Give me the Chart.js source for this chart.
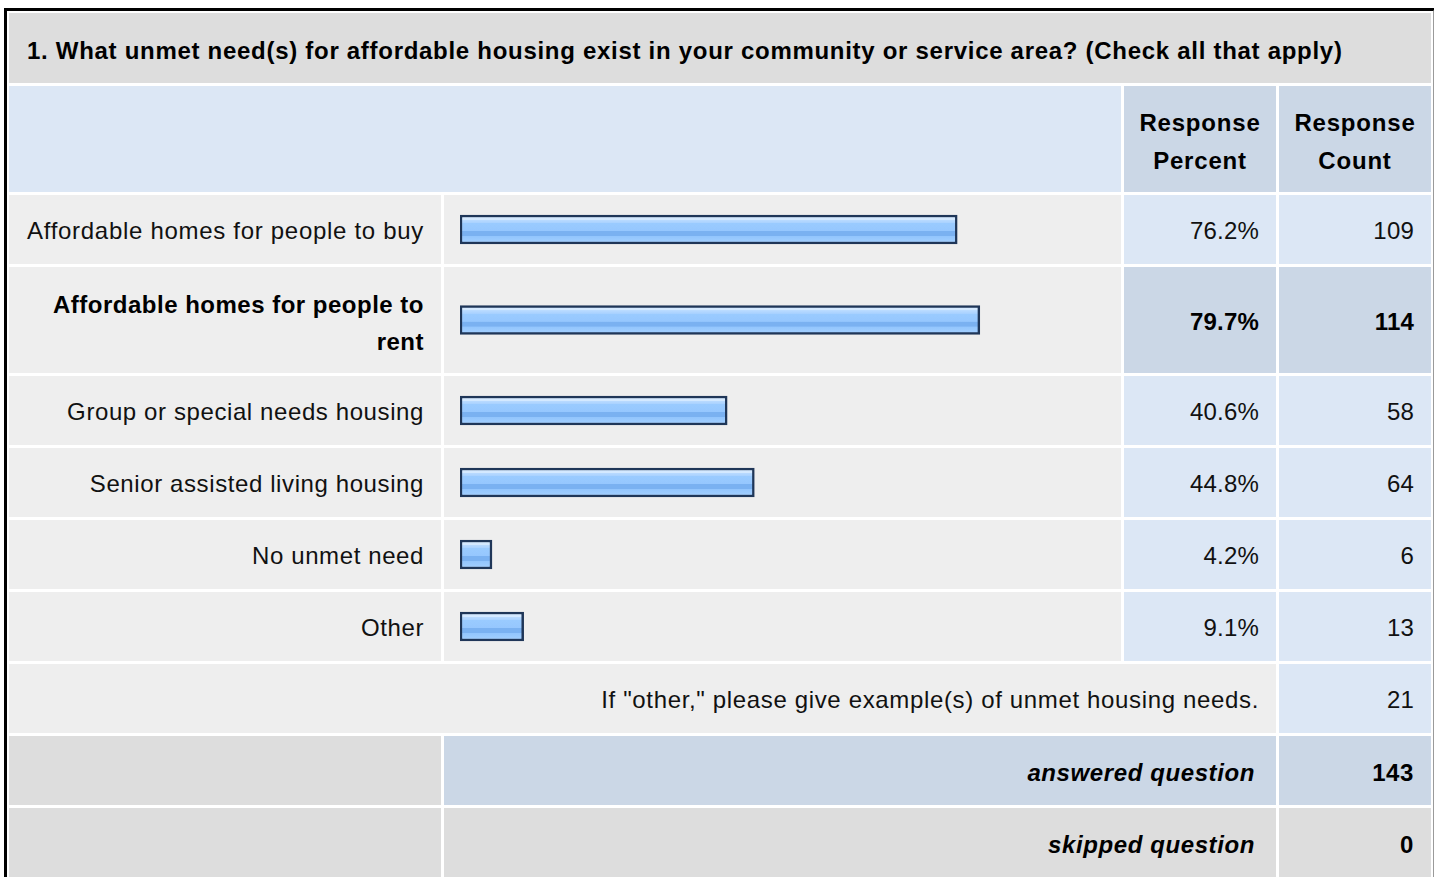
<!DOCTYPE html>
<html>
<head>
<meta charset="utf-8">
<script src="https://cdn.jsdelivr.net/npm/chart.js@4/dist/chart.umd.min.js"></script>
<style>
  html, body { margin:0; padding:0; background:#fff; width:1434px; height:877px; overflow:hidden; }
  body { font-family: "Liberation Sans", Arial, Helvetica, sans-serif; color:#111; }
  #frame { position:absolute; left:4px; top:8px; width:1426px; height:900px;
           border-left:3px solid #000; border-top:3px solid #000; border-right:3px solid #9a9a9a; }
  #grid { position:absolute; left:9px; top:13px; display:grid;
          grid-template-columns:432px 677px 152px 152px; column-gap:3px; row-gap:3px; }
  .cell { box-sizing:border-box; display:flex; align-items:center; font-size:24px; letter-spacing:0.6px; line-height:37px; }
  .title { grid-column:1 / span 4; background:#dddddd; padding-left:18px; padding-top:4px; font-weight:bold; letter-spacing:0.71px; height:70px; white-space:nowrap; color:#000; }
  .hdrblank { grid-column:1 / span 2; background:#dce7f5; }
  .hdr { background:#cbd7e6; justify-content:center; text-align:center; font-weight:bold; color:#000; padding-top:6px; letter-spacing:0.8px; line-height:38px; }
  .label { background:#eeeeee; justify-content:flex-end; text-align:right; padding:2px 17px 0 8px; white-space:nowrap; }
  .label.first { letter-spacing:0.7px; }
  .label.hi { white-space:normal; font-weight:bold; color:#000; padding-top:6px; letter-spacing:0.5px; }
  .barcell { background:#eeeeee; position:relative; }
  .barcell canvas { position:absolute; left:0; top:0; }
  .num { background:#dce7f5; justify-content:flex-end; padding:2px 17px 0 0; letter-spacing:0.2px; }
  .num.hi { background:#cbd7e6; font-weight:bold; color:#000; }
  .other { grid-column:1 / span 3; background:#eeeeee; justify-content:flex-end; padding:2px 17px 0 0; white-space:nowrap; letter-spacing:0.65px; }
  .sumblank { background:#dddddd; }
  .sumlabel { grid-column:2 / span 2; justify-content:flex-end; padding:3px 21px 0 0; font-weight:bold; font-style:italic; color:#000; letter-spacing:0.6px; }
  .sumnum { justify-content:flex-end; padding:3px 17px 0 0; font-weight:bold; color:#000; }
  .ans { background:#cbd7e6; }
  .skp { background:#dddddd; }
</style>
</head>
<body>
<div id="frame"></div>
<div id="grid"></div>
<script>
// ---- data ----
const questionTitle = "1. What unmet need(s) for affordable housing exist in your community or service area? (Check all that apply)";
const columnHeaders = ["Response Percent", "Response Count"];
const categories = [
  "Affordable homes for people to buy",
  "Affordable homes for people to rent",
  "Group or special needs housing",
  "Senior assisted living housing",
  "No unmet need",
  "Other"
];
const percents = [76.2, 79.7, 40.6, 44.8, 4.2, 9.1];
const counts = [109, 114, 58, 64, 6, 13];
const highlightRows = [1];
const otherPrompt = 'If "other," please give example(s) of unmet housing needs.';
const otherCount = 21;
const summaryLabels = ["answered question", "skipped question"];
const summaryCounts = [143, 0];

// ---- layout ----
const grid = document.getElementById('grid');
const rowHeights = [70, 106];
function el(cls, text, parent) {
  const d = document.createElement('div');
  d.className = 'cell ' + cls;
  if (text !== undefined) d.textContent = text;
  (parent || grid).appendChild(d);
  return d;
}
el('title', questionTitle);
el('hdrblank');
columnHeaders.forEach(h => {
  const d = el('hdr');
  const parts = h.split(' ');
  d.innerHTML = parts[0] + '<br>' + parts.slice(1).join(' ');
});

const AXIS_MIN = -0.75;
const barCells = [];
categories.forEach((cat, i) => {
  const hi = highlightRows.includes(i);
  const h = hi ? 106 : 69;
  rowHeights.push(h);
  el('label' + (hi ? ' hi' : '') + (i === 0 ? ' first' : ''), cat);
  const bc = el('barcell');
  bc.style.height = h + 'px';
  barCells.push({ bc, h, i });
  el('num' + (hi ? ' hi' : ''), percents[i].toFixed(1) + '%');
  el('num' + (hi ? ' hi' : ''), String(counts[i]));
});
rowHeights.push(69);
el('other', otherPrompt);
el('num', String(otherCount));
summaryLabels.forEach((lab, k) => {
  rowHeights.push(69);
  const cls = k === 0 ? 'ans' : 'skp';
  el('sumblank');
  el('sumlabel ' + cls, lab);
  el('sumnum ' + cls, String(summaryCounts[k]));
});
grid.style.gridTemplateRows = rowHeights.map(h => h + 'px').join(' ');

// ---- bars ----
const BAR_T = 29;
function barFill(ctx) {
  const chart = ctx.chart;
  const ys = chart.scales && chart.scales.y;
  let yc = ys ? ys.getPixelForValue(ctx.dataIndex) : NaN;
  if (!isFinite(yc)) yc = chart.height / 2;
  const g = chart.ctx.createLinearGradient(0, yc - BAR_T / 2, 0, yc + BAR_T / 2);
  g.addColorStop(0.00, '#d4e9ff');
  g.addColorStop(0.16, '#d4e9ff');
  g.addColorStop(0.17, '#badbff');
  g.addColorStop(0.28, '#a8d1ff');
  g.addColorStop(0.29, '#9acbff');
  g.addColorStop(0.55, '#96c7fe');
  g.addColorStop(0.56, '#7ab1f1');
  g.addColorStop(0.72, '#7ab1f1');
  g.addColorStop(0.73, '#92c5fd');
  g.addColorStop(1.00, '#a6d1ff');
  return g;
}
barCells.forEach(({ bc, h, i }) => {
  const cv = document.createElement('canvas');
  cv.width = 677; cv.height = h;
  cv.style.width = '677px'; cv.style.height = h + 'px';
  bc.appendChild(cv);
  new Chart(cv, {
    type: 'bar',
    data: {
      labels: [categories[i]],
      datasets: [{
        data: [percents[i]],
        base: AXIS_MIN,
        backgroundColor: barFill,
        borderColor: '#1f3658',
        borderWidth: 2.5,
        borderSkipped: false,
        barThickness: BAR_T
      }]
    },
    options: {
      indexAxis: 'y',
      responsive: false,
      animation: false,
      events: [],
      layout: { padding: { left: 16, right: 10, top: 0, bottom: 0 } },
      scales: {
        x: { min: AXIS_MIN, max: 100, display: false },
        y: { display: false }
      },
      plugins: { legend: { display: false }, tooltip: { enabled: false } }
    }
  });
});
</script>
</body>
</html>
